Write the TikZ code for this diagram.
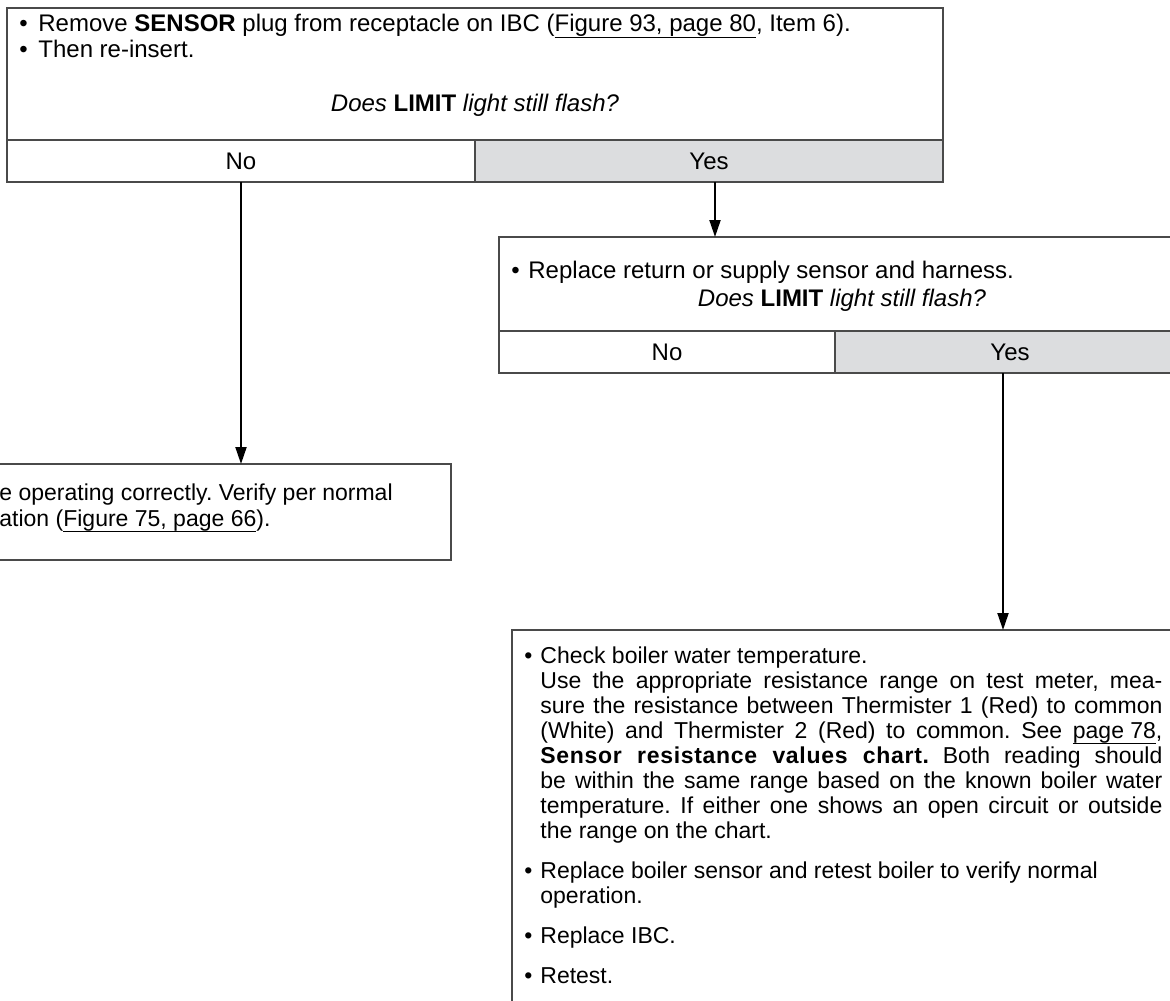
\documentclass[tikz,border=0pt]{standalone}
\usepackage{fontspec}
\setmainfont{Liberation Sans}
\usetikzlibrary{arrows.meta}
\definecolor{edge}{HTML}{4A4A4A}
\definecolor{yesfill}{HTML}{DCDDDF}
\frenchspacing
\newcommand\reflink[1]{\setbox0=\hbox{#1}\rlap{\rule[-0.25em]{\wd0}{0.05em}}\box0}
\begin{document}
\begin{tikzpicture}[x=0.5pt,y=-0.5pt,
  cell/.style={draw=edge,line width=0.65pt,anchor=north west,inner sep=0pt,outer sep=0pt,
    font=\fontsize{12}{14}\selectfont,text height=8.6pt,text depth=0pt},
  yescell/.style={cell,fill=yesfill},
  up/.style={anchor=base west,inner sep=0pt,font=\fontsize{12}{14}\selectfont},
  upc/.style={anchor=base,inner sep=0pt,font=\fontsize{12}{14}\selectfont},
  lo/.style={anchor=base west,inner sep=0pt,font=\fontsize{11.5}{12}\selectfont},
  arr/.style={-{Triangle[length=8.5pt,width=5.5pt]},line width=1pt,black}]
\useasboundingbox (0,0) rectangle (1170,1000);
\clip (0,0) rectangle (1170,1000);
% top box
\node[cell,minimum width=468pt,minimum height=66pt] (q1) at (7,8) {};
\node[cell,minimum width=234pt,minimum height=21pt] (q1no) at (7,140) {No};
\node[yescell,minimum width=234pt,minimum height=21pt] (q1yes) at (475,140) {Yes};
\node[up] (q1b1) at (19,32) {•};
\node[up] (q1t1) at (38,32) {Remove \textbf{SENSOR} plug from receptacle on IBC (\reflink{Figure 93, page 80}, Item 6).};
\node[up] (q1b2) at (19,58) {•};
\node[up] (q1t2) at (38,58) {Then re-insert.};
\node[upc] (q1q) at (475,112) {\textit{Does} \textbf{LIMIT} \textit{light still flash?}};
% second box
\node[cell,minimum width=343pt,minimum height=47pt] (q2) at (499,237) {};
\node[cell,minimum width=168pt,minimum height=21pt] (q2no) at (499,331) {No};
\node[yescell,minimum width=175pt,minimum height=21pt] (q2yes) at (835,331) {Yes};
\node[up] (q2b1) at (511,278) {•};
\node[up] (q2t1) at (528,278) {Replace return or supply sensor and harness.};
\node[upc] (q2q) at (842,306) {\textit{Does} \textbf{LIMIT} \textit{light still flash?}};
% left result box
\node[cell,minimum width=235.5pt,minimum height=48pt] (r1) at (-20,464) {};
\node[lo] (r1t1) at (-1,500) {e operating correctly. Verify per normal};
\node[lo] (r1t2) at (-1,526) {ation (\reflink{Figure 75, page 66}).};
% bottom result box
\node[cell,minimum width=336.5pt,minimum height=190pt] (r2) at (512,630) {};
\node[lo] (r2b1) at (524,663) {•};
\node[lo] (r2l1) at (540,663) {Check boiler water temperature.};
\node[lo] (r2l2) at (540,688) {\makebox[311pt][s]{Use the appropriate resistance range on test meter, mea-}};
\node[lo] (r2l3) at (540,713) {\makebox[311pt][s]{sure the resistance between Thermister 1 (Red) to common}};
\node[lo] (r2l4) at (540,738) {\makebox[311pt][s]{(White) and Thermister 2 (Red) to common. See \reflink{page 78},}};
\node[lo] (r2l5) at (540,763) {\makebox[311pt][s]{{\bfseries\addfontfeatures{LetterSpace=3}Sensor resistance values chart.} Both reading should}};
\node[lo] (r2l6) at (540,788) {\makebox[311pt][s]{be within the same range based on the known boiler water}};
\node[lo] (r2l7) at (540,813) {\makebox[311pt][s]{temperature. If either one shows an open circuit or outside}};
\node[lo] (r2l8) at (540,838) {the range on the chart.};
\node[lo] (r2b2) at (524,878) {•};
\node[lo] (r2l9) at (540,878) {Replace boiler sensor and retest boiler to verify normal};
\node[lo] (r2l10) at (540,903) {operation.};
\node[lo] (r2b3) at (524,943) {•};
\node[lo] (r2l11) at (540,943) {Replace IBC.};
\node[lo] (r2b4) at (524,983) {•};
\node[lo] (r2l12) at (540,983) {Retest.};
% connectors
\draw[arr] (q1no.south) -- (q1no.south |- r1.north);
\draw[arr] ([xshift=3pt]q1yes.south) -- ([xshift=3pt]q1yes.south |- q2.north);
\draw[arr] ([xshift=-3.5pt]q2yes.south) -- ([xshift=-3.5pt]q2yes.south |- r2.north);
\end{tikzpicture}
\end{document}
